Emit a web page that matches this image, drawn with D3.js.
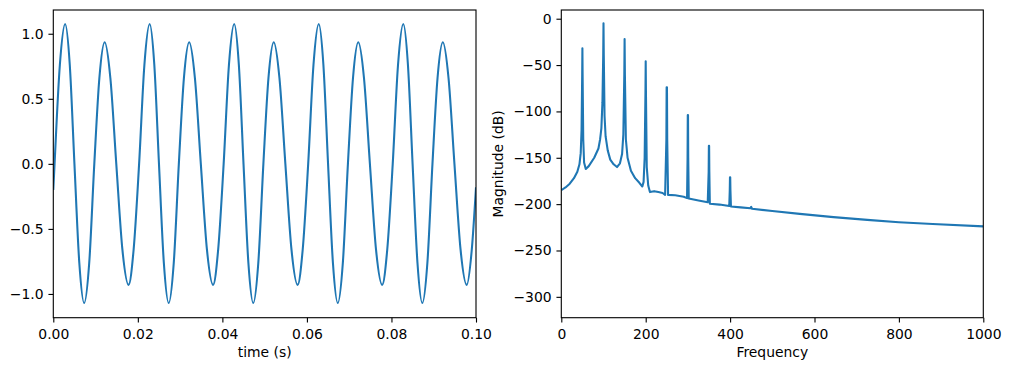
<!DOCTYPE html>
<html>
<head>
<meta charset="utf-8">
<script src="https://cdn.jsdelivr.net/npm/d3@7"></script>
<style>
  body { margin: 0; background: #fff; }
  text { font-family: "DejaVu Sans", sans-serif; }
</style>
</head>
<body>
<svg id="fig" width="1010" height="371"></svg>
<script>
// Data
// left panel: time signal, five repeats of the same 20 ms shape
var timeS = [
  0.0000,
  0.0003, 0.00155, 0.0028, 0.0039, 0.0050, 0.00615, 0.0073, 0.0085, 0.0097, 0.0109, 0.01215, 0.0135, 0.0149, 0.01635, 0.0178, 0.0190,
  0.0203, 0.02155, 0.0228, 0.0239, 0.0250, 0.02615, 0.0273, 0.0285, 0.0297, 0.0309, 0.03215, 0.0335, 0.0349, 0.03635, 0.0378, 0.0390,
  0.0403, 0.04155, 0.0428, 0.0439, 0.0450, 0.04615, 0.0473, 0.0485, 0.0497, 0.0509, 0.05215, 0.0535, 0.0549, 0.05635, 0.0578, 0.0590,
  0.0603, 0.06155, 0.0628, 0.0639, 0.0650, 0.06615, 0.0673, 0.0685, 0.0697, 0.0709, 0.07215, 0.0735, 0.0749, 0.07635, 0.0778, 0.0790,
  0.0803, 0.08155, 0.0828, 0.0839, 0.0850, 0.08615, 0.0873, 0.0885, 0.0897, 0.0909, 0.09215, 0.0935, 0.0949, 0.09635, 0.0978, 0.0990,
  0.1000
];
var amplitude = [
  -0.20,
  0, 0.76, 1.075, 0.76, 0, -0.76, -1.07, -0.76, 0, 0.66, 0.935, 0.66, 0, -0.66, -0.93, -0.66,
  0, 0.76, 1.075, 0.76, 0, -0.76, -1.07, -0.76, 0, 0.66, 0.935, 0.66, 0, -0.66, -0.93, -0.66,
  0, 0.76, 1.075, 0.76, 0, -0.76, -1.07, -0.76, 0, 0.66, 0.935, 0.66, 0, -0.66, -0.93, -0.66,
  0, 0.76, 1.075, 0.76, 0, -0.76, -1.07, -0.76, 0, 0.66, 0.935, 0.66, 0, -0.66, -0.93, -0.66,
  0, 0.76, 1.075, 0.76, 0, -0.76, -1.07, -0.76, 0, 0.66, 0.935, 0.66, 0, -0.66, -0.93, -0.66,
  -0.18
];

// right panel: magnitude spectrum
var freqHz = [
  0, 10, 20, 30, 38, 43, 46, 48, 49.5, 50, 50.5, 52, 54, 58, 65, 78, 88, 92, 95, 97.5, 99.3, 100, 100.7,
  102.5, 105, 110, 116, 124, 132, 139, 144, 147, 149.3, 150, 150.7, 153, 157, 165, 175, 185, 192, 195,
  197.5, 199.4, 200, 200.6, 202.5, 206, 210, 220, 230, 240, 246, 249, 249.6, 250.4, 251, 253, 270, 290, 298,
  299.2, 299.7, 300.3, 300.8, 302, 325, 347, 349.2, 349.7, 350.3, 350.8, 352, 375, 398, 399.2, 399.7, 400.3, 400.8, 402, 425,
  448, 450, 452, 500, 565, 645, 725, 800, 880, 1000
];
var magnitudeDb = [
  -185, -182, -178, -172, -165, -157, -145, -120, -60, -32, -60, -130, -155, -162, -159, -150, -140, -130, -118, -90, -40, -5, -40,
  -105, -127, -142, -152, -157, -160, -156, -146, -125, -60, -22, -60, -130, -150, -164, -172, -177, -181, -176,
  -150, -80, -46, -80, -160, -180, -187, -186, -187, -188, -190, -130, -74, -74, -130, -190, -190.5, -192, -193.5,
  -150, -104, -104, -150, -194, -196, -198, -165, -137, -137, -165, -199.5, -200.5, -202, -185, -171, -171, -185, -202.5, -203.5,
  -204.5, -203, -205, -207.5, -210.5, -214, -217, -219.5, -221.5, -224
];

var timeTicks = [0, 0.02, 0.04, 0.06, 0.08, 0.10];
var ampTicks = [-1.0, -0.5, 0.0, 0.5, 1.0];
var freqTicks = [0, 200, 400, 600, 800, 1000];
var dbTicks = [0, -50, -100, -150, -200, -250, -300];

var lineColor = "#1f77b4";
var fontSize = 13.9;
var tickLen = 4.86;

var svg = d3.select("#fig");
svg.append("rect").attr("width", 1010).attr("height", 371).attr("fill", "#fff");

// Axes boxes
var axTop = 10, axBottom = 317.7;
var left1 = 53.3, right1 = 476;
var left2 = 561.3, right2 = 983.3;

var xTime = d3.scaleLinear().domain([0, 0.1]).range([left1, right1]);
var yAmp = d3.scaleLinear().domain([-1.1825, 1.1825]).range([axBottom, axTop]);
var xFreq = d3.scaleLinear().domain([0, 1000]).range([left2, right2]);
var yDb = d3.scaleLinear().domain([-322.5, 9.4]).range([axBottom, axTop]);

function panel(id, xs, ys, xVals, yVals, xTickVals, yTickVals, xFmt, yFmt, xLabel, yLabel, curve) {
  var g = svg.append("g").attr("id", id);
  var x0 = xs.range()[0], x1 = xs.range()[1];

  g.append("clipPath").attr("id", id + "-clip")
    .append("rect")
    .attr("x", x0).attr("y", axTop)
    .attr("width", x1 - x0).attr("height", axBottom - axTop);

  var pts = xVals.map(function(d, i) { return [d, yVals[i]]; });
  var line = d3.line()
    .x(function(d) { return xs(d[0]); })
    .y(function(d) { return ys(d[1]); })
    .curve(curve);

  g.append("path")
    .datum(pts)
    .attr("clip-path", "url(#" + id + "-clip)")
    .attr("d", line)
    .attr("fill", "none")
    .attr("stroke", lineColor)
    .attr("stroke-width", 2.08)
    .attr("stroke-linejoin", "round")
    .attr("stroke-linecap", "butt");

  // x axis
  var gx = g.append("g")
    .attr("transform", "translate(0," + axBottom + ")")
    .call(d3.axisBottom(xs).tickValues(xTickVals).tickFormat(xFmt)
      .tickSize(tickLen).tickPadding(4.86));
  gx.select(".domain").remove();
  gx.selectAll("line").attr("stroke", "#000").attr("stroke-width", 1.11);
  gx.selectAll("text").attr("dy", "0.83em");

  // y axis
  var gy = g.append("g")
    .attr("transform", "translate(" + x0 + ",0)")
    .call(d3.axisLeft(ys).tickValues(yTickVals).tickFormat(yFmt)
      .tickSize(tickLen).tickPadding(4.86));
  gy.select(".domain").remove();
  gy.selectAll("line").attr("stroke", "#000").attr("stroke-width", 1.11);

  g.selectAll(".tick text")
    .attr("fill", "#000")
    .attr("font-family", "DejaVu Sans")
    .attr("font-size", fontSize);
  gx.attr("font-family", null).attr("font-size", null);
  gy.attr("font-family", null).attr("font-size", null);

  // frame
  g.append("rect")
    .attr("x", x0).attr("y", axTop)
    .attr("width", x1 - x0).attr("height", axBottom - axTop)
    .attr("fill", "none")
    .attr("stroke", "#000")
    .attr("stroke-width", 1.11);

  if (xLabel) {
    g.append("text")
      .attr("x", (x0 + x1) / 2)
      .attr("y", 357)
      .attr("text-anchor", "middle")
      .attr("font-size", fontSize)
      .attr("fill", "#000")
      .text(xLabel);
  }
  if (yLabel) {
    g.append("text")
      .attr("transform", "translate(503," + ((axTop + axBottom) / 2) + ") rotate(-90)")
      .attr("text-anchor", "middle")
      .attr("font-size", fontSize)
      .attr("fill", "#000")
      .text(yLabel);
  }
}

panel("time", xTime, yAmp, timeS, amplitude, timeTicks, ampTicks,
  d3.format(".2f"), d3.format(".1f"), "time (s)", null, d3.curveMonotoneX);
panel("spec", xFreq, yDb, freqHz, magnitudeDb, freqTicks, dbTicks,
  d3.format("d"), d3.format("d"), "Frequency", "Magnitude (dB)", d3.curveLinear);
</script>
</body>
</html>
